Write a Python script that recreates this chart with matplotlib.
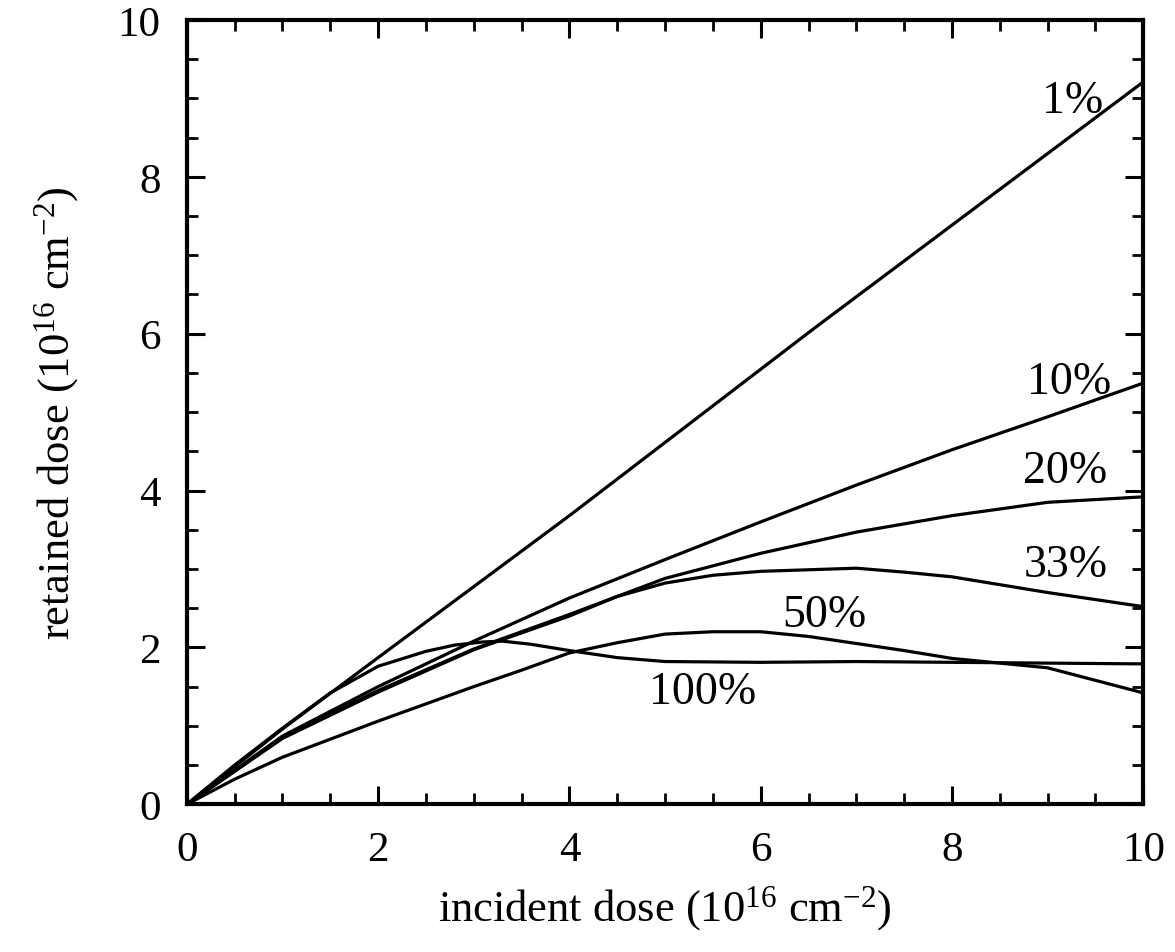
import matplotlib
matplotlib.use("Agg")
import matplotlib.pyplot as plt
from matplotlib.ticker import MultipleLocator

plt.rcParams['font.family'] = ['Liberation Serif', 'DejaVu Serif']
plt.rcParams['mathtext.fontset'] = 'custom'
plt.rcParams['mathtext.rm'] = 'Liberation Serif'
plt.rcParams['mathtext.it'] = 'Liberation Serif:italic'

# incident dose (1e16 cm^-2) vs retained dose, one curve per label
x_1 = [0, 1, 2, 4, 6.55, 10]
y_1 = [0, 0.96, 1.87, 3.68, 6.06, 9.21]

x_10 = [0, 1, 2, 3, 4, 5, 6, 7, 8, 9, 10]
y_10 = [0, 0.87, 1.5, 2.08, 2.63, 3.12, 3.6, 4.07, 4.52, 4.94, 5.37]

x_20 = [0, 1, 2, 3, 4, 5, 6, 7, 8, 9, 10]
y_20 = [0, 0.85, 1.45, 1.98, 2.42, 2.88, 3.2, 3.47, 3.68, 3.85, 3.92]

x_33 = [0, 1, 2, 3, 4, 4.5, 5, 5.5, 6, 7, 7.5, 8, 9, 10]
y_33 = [0, 0.84, 1.43, 1.97, 2.4, 2.65, 2.82, 2.92, 2.97, 3.01, 2.96, 2.9, 2.7, 2.52]

x_50 = [0, 0.5, 1, 1.5, 2, 2.5, 3, 3.5, 4, 4.5, 5, 5.5, 6, 6.5, 7, 7.5, 8, 8.5, 9, 9.5, 10]
y_50 = [0, 0.32, 0.6, 0.83, 1.06, 1.28, 1.5, 1.71, 1.93, 2.06, 2.17, 2.2, 2.2, 2.14,
        2.05, 1.96, 1.86, 1.8, 1.74, 1.58, 1.42]

x_100 = [0, 0.5, 1, 1.5, 2, 2.5, 2.8, 3.1, 3.3, 3.6, 4, 4.5, 5, 6, 7, 8, 9, 10]
y_100 = [0, 0.5, 0.97, 1.42, 1.76, 1.95, 2.03, 2.07, 2.08, 2.04, 1.96, 1.87, 1.82,
         1.81, 1.82, 1.81, 1.8, 1.79]

labels = ['1%', '10%', '20%', '33%', '50%', '100%']
label_x = [9.26, 9.22, 9.18, 9.19, 6.67, 5.39]
label_y = [8.97, 5.39, 4.25, 3.06, 2.42, 1.44]

fig = plt.figure(figsize=(11.75, 9.53), dpi=100)
ax = fig.add_axes([0.159, 0.155, 0.814, 0.823])

for xs, ys in [(x_1, y_1), (x_10, y_10), (x_20, y_20), (x_33, y_33),
               (x_50, y_50), (x_100, y_100)]:
    ax.plot(xs, ys, color='black', lw=2.3, solid_joinstyle='round')

for txt, tx, ty in zip(labels, label_x, label_y):
    ax.text(tx, ty, txt, fontsize=33, ha='center', va='center')

ax.set_xlim(0, 10)
ax.set_ylim(0, 10)
ax.xaxis.set_major_locator(MultipleLocator(2))
ax.yaxis.set_major_locator(MultipleLocator(2))
ax.xaxis.set_minor_locator(MultipleLocator(0.5))
ax.yaxis.set_minor_locator(MultipleLocator(0.5))
ax.tick_params(which='both', direction='in', top=True, right=True, labelsize=31)
ax.tick_params(which='major', length=13, width=2.2, pad=19)
ax.tick_params(which='minor', length=8, width=2)
for sp in ax.spines.values():
    sp.set_linewidth(3)

ax.set_xlabel(r'incident dose (10$^{16}$ cm$^{-2}$)', fontsize=32, labelpad=10)
ax.set_ylabel(r'retained dose (10$^{16}$ cm$^{-2}$)', fontsize=32, labelpad=26)

fig.savefig('out.png', dpi=100)
